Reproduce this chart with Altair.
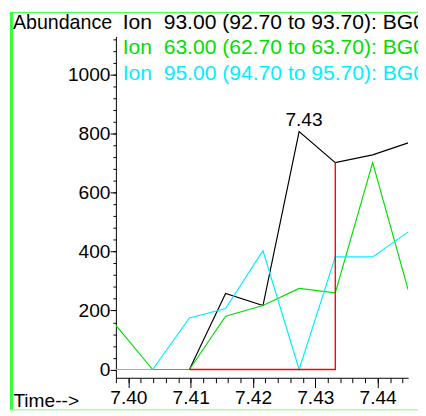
import altair as alt
import pandas as pd

# ---- data ----
times = [7.3980, 7.4039, 7.4098, 7.4156, 7.4216, 7.4274, 7.4332, 7.4392, 7.4449]
ion93 = [0, 0, 0, 258, 217, 807, 702, 728, 769]
ion63 = [150, 0, 0, 181, 217, 275, 260, 702, 270]
ion95 = [0, 0, 175, 207, 403, 0, 382, 382, 467]

series_names = ["Ion 93.00", "Ion 63.00", "Ion 95.00"]
series_colors = ["#000000", "#00e000", "#00f0ff"]
legend_prefix = ["Ion", "Ion", "Ion"]
legend_text = ["93.00 (92.70 to 93.70): BG0",
               "63.00 (62.70 to 63.70): BG0",
               "95.00 (94.70 to 95.70): BG0"]

baseline_times = [7.4098, 7.4332, 7.4332]
baseline_values = [0, 0, 702]

peak_time = [7.4274]
peak_value = [807]

x_major = [7.40, 7.41, 7.42, 7.43, 7.44]
x_minor = [round(7.398 + 0.002 * i, 3) for i in range(24)]
y_major = [0, 200, 400, 600, 800, 1000]
y_minor = list(range(0, 1121, 40))

FONT = "Liberation Sans"

rows = []
for name, vals in zip(series_names, [ion93, ion63, ion95]):
    for i, (t, v) in enumerate(zip(times, vals)):
        rows.append({"series": name, "time": t, "abundance": v, "idx": i})
df = pd.DataFrame(rows)

base_df = pd.DataFrame({"time": baseline_times, "abundance": baseline_values,
                        "idx": list(range(len(baseline_times)))})
peak_df = pd.DataFrame({"time": peak_time, "abundance": peak_value,
                        "label": [f"{t:.2f}" for t in peak_time]})

xscale = alt.Scale(domain=[7.398, 7.4449], nice=False, zero=False)
yscale = alt.Scale(domain=[-28, 1130], nice=False, zero=False)

xaxis = alt.Axis(
    orient="bottom", values=x_major, format=".2f", tickSize=10,
    labelPadding=1, labelFont=FONT, labelFontSize=19.5, labelColor="black",
    labelOverlap=False, labelFlush=False, labelBound=False,
    domainColor="black", tickColor="black", grid=False,
    title="Time-->", titleFont=FONT, titleFontSize=19.5, titleFontWeight="normal",
    titleColor="black", titleAlign="left", titleBaseline="alphabetic",
    titleX=-105, titleY=29, titleAngle=0,
)
yaxis = alt.Axis(
    orient="left", values=y_major, format="d", tickSize=6,
    labelPadding=0, labelFont=FONT, labelFontSize=19.5, labelColor="black",
    labelOverlap=False, labelBound=False, labelFlush=False,
    domainColor="black", tickColor="black", grid=False,
    title="Abundance", titleFont=FONT, titleFontSize=20, titleFontWeight="normal",
    titleColor="black", titleAlign="left", titleBaseline="alphabetic",
    titleX=-105.5, titleY=-8, titleAngle=0,
)
xaxis_minor = alt.Axis(orient="bottom", values=x_minor, labels=False, tickSize=5,
                       domain=False, tickColor="black", grid=False, title=None)
yaxis_minor = alt.Axis(orient="left", values=y_minor, labels=False, tickSize=3,
                       domain=False, tickColor="black", grid=False, title=None)

lines = alt.Chart(df).mark_line(strokeWidth=1.2, clip=True).encode(
    x=alt.X("time:Q", scale=xscale, axis=xaxis),
    y=alt.Y("abundance:Q", scale=yscale, axis=yaxis),
    color=alt.Color("series:N", scale=alt.Scale(domain=series_names, range=series_colors), legend=None),
    order=alt.Order("idx:Q"),
)

minor = alt.Chart(df).mark_line(opacity=0).encode(
    x=alt.X("time:Q", scale=xscale, axis=xaxis_minor),
    y=alt.Y("abundance:Q", scale=yscale, axis=yaxis_minor),
    detail="series:N",
)

baseline = alt.Chart(base_df).mark_line(color="#ff0000", strokeWidth=1.4, clip=True).encode(
    x=alt.X("time:Q", scale=xscale, axis=None),
    y=alt.Y("abundance:Q", scale=yscale, axis=None),
    order=alt.Order("idx:Q"),
)

peak_label = alt.Chart(peak_df).mark_text(
    font=FONT, fontSize=19.5, color="black", baseline="alphabetic", align="center", dy=-6, dx=5
).encode(
    x=alt.X("time:Q", scale=xscale, axis=None),
    y=alt.Y("abundance:Q", scale=yscale, axis=None),
    text="label:N",
)

layers = [lines, minor, baseline, peak_label]

leg_y = [-8, 18, 44]
for pre, txt, col, yy in zip(legend_prefix, legend_text, series_colors, leg_y):
    layers.append(alt.Chart(pd.DataFrame({"t": [pre]})).mark_text(
        font=FONT, fontSize=21.5, color=col, align="left", baseline="alphabetic"
    ).encode(x=alt.value(7), y=alt.value(yy), text="t:N"))
    layers.append(alt.Chart(pd.DataFrame({"t": [txt]})).mark_text(
        font=FONT, fontSize=21.5, color=col, align="left", baseline="alphabetic"
    ).encode(x=alt.value(48.7), y=alt.value(yy), text="t:N"))

# green window frame
frame_df = pd.DataFrame({"k": [0]})
layers.append(alt.Chart(frame_df).mark_rule(color="#33ff33", strokeWidth=3).encode(
    x=alt.value(-106.5), y=alt.value(-25), y2=alt.value(381)))
layers.append(alt.Chart(frame_df).mark_rule(color="#33ff33", strokeWidth=1).encode(
    x=alt.value(-106.5), x2=alt.value(320), y=alt.value(-24.5)))
layers.append(alt.Chart(frame_df).mark_rule(color="#aaffaa", strokeWidth=1.5).encode(
    x=alt.value(-106.5), x2=alt.value(320), y=alt.value(380.5)))

chart = alt.layer(*layers).resolve_axis(x="independent", y="independent").properties(
    width=298, height=348,
    autosize=alt.AutoSizeParams(type="none"),
    padding={"left": 110, "top": 25, "right": 10, "bottom": 35},
    background="white",
).configure_view(stroke=None)

chart.save("out.html", embed_options={"renderer": "svg", "actions": False})
